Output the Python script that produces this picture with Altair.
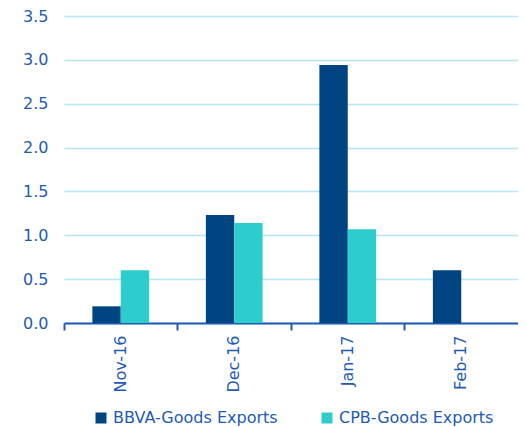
import altair as alt
import pandas as pd

months = ["Nov-16", "Dec-16", "Jan-17", "Feb-17"]
bbva = [0.19, 1.23, 2.94, 0.60]
cpb = [0.60, 1.14, 1.07, None]
series = ["BBVA-Goods Exports", "CPB-Goods Exports"]
colors = ["#004481", "#2DCCCD"]
y_ticks = [0, 0.5, 1.0, 1.5, 2.0, 2.5, 3.0, 3.5]

rows = []
for m, a, b in zip(months, bbva, cpb):
    rows.append({"month": m, "series": series[0], "value": a})
    if b is not None:
        rows.append({"month": m, "series": series[1], "value": b})
df = pd.DataFrame(rows)

TXT = "#1E5BB0"
FONT = "DejaVu Sans"
W = 454

chart = alt.Chart(df).mark_bar().encode(
    x=alt.X("month:N", sort=months,
            scale=alt.Scale(paddingInner=0, paddingOuter=0),
            axis=alt.Axis(title=None, bandPosition=0,
                          labelAngle=270, labelFont=FONT, labelFontSize=16,
                          labelColor=TXT, labelPadding=5, tickSize=7,
                          tickColor=TXT, tickWidth=2, domainColor=TXT,
                          domainWidth=2, grid=False)),
    xOffset=alt.XOffset("series:N", sort=series,
                        scale=alt.Scale(paddingInner=0, paddingOuter=1)),
    y=alt.Y("value:Q", scale=alt.Scale(domain=[0, 3.5], nice=False),
            axis=alt.Axis(title=None, values=y_ticks, format=".1f",
                          labelFont=FONT, labelFontSize=16, labelColor=TXT,
                          labelPadding=16, ticks=False, domain=False,
                          gridColor="#B8E4F7", gridWidth=1.5)),
    color=alt.Color("series:N", sort=series,
                    scale=alt.Scale(domain=series, range=colors),
                    legend=alt.Legend(title=None, orient="none", legendX=29,
                                      legendY=394, direction="horizontal",
                                      symbolType="square", symbolSize=121,
                                      symbolStrokeWidth=0, labelFont=FONT,
                                      labelFontSize=16, labelColor=TXT,
                                      labelOffset=4, columnPadding=41,
                                      labelLimit=400, padding=0)),
).properties(
    width=W, height=307,
    autosize=alt.AutoSizeParams(type="none"),
    padding={"left": 56, "top": 8, "right": 0, "bottom": 104},
).configure_view(stroke=None)

chart.save("out.html", embed_options={"renderer": "svg", "actions": False})
